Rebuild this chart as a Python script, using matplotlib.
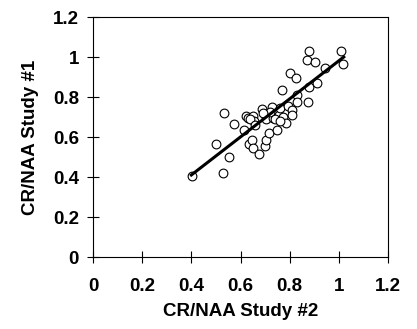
import matplotlib
matplotlib.use("Agg")
import matplotlib.pyplot as plt

plt.rcParams['font.family'] = ['Liberation Sans', 'DejaVu Sans']

study2 = [0.404, 0.527, 0.500, 0.555, 0.532, 0.575, 0.614, 0.622, 0.632, 0.652,
          0.656, 0.633, 0.648, 0.652, 0.675, 0.686, 0.702, 0.700, 0.702, 0.716,
          0.727, 0.731, 0.747, 0.755, 0.761, 0.770, 0.774, 0.785, 0.795, 0.811,
          0.808, 0.801, 0.824, 0.829, 0.831, 0.876, 0.880, 0.910, 0.869, 0.879,
          0.905, 0.945, 1.009, 1.018, 0.720, 0.740, 0.640, 0.690, 0.660, 0.760]
study1 = [0.407, 0.420, 0.565, 0.502, 0.722, 0.665, 0.635, 0.707, 0.697, 0.705,
          0.682, 0.565, 0.585, 0.543, 0.515, 0.738, 0.688, 0.557, 0.585, 0.622,
          0.752, 0.693, 0.635, 0.710, 0.743, 0.835, 0.702, 0.668, 0.755, 0.735,
          0.710, 0.918, 0.893, 0.810, 0.777, 0.777, 0.848, 0.868, 0.985, 1.032,
          0.973, 0.943, 1.030, 0.965, 0.727, 0.690, 0.690, 0.720, 0.660, 0.680]

fit_x = [0.40, 1.02]
fit_y = [0.41, 1.00]

ticks = [0, 0.2, 0.4, 0.6, 0.8, 1.0, 1.2]
tick_labels = ['0', '0.2', '0.4', '0.6', '0.8', '1', '1.2']

fig = plt.figure(figsize=(4.17, 3.29), dpi=100)
ax = fig.add_axes([93/417, 72/329, 295/417, 240/329])

ax.plot(study2, study1, 'o', mfc='white', mec='black', ms=6.3, mew=0.8, zorder=2)
ax.plot(fit_x, fit_y, '-', color='black', lw=2.2, zorder=3)

ax.set_xlim(0, 1.2)
ax.set_ylim(0, 1.2)
ax.set_xticks(ticks)
ax.set_xticklabels(tick_labels)
ax.set_yticks(ticks)
ax.set_yticklabels(tick_labels)
ax.tick_params(direction='inout', length=8, width=0.8, labelsize=13.5)
ax.tick_params(axis='x', pad=11)
ax.tick_params(axis='y', pad=6)
for lab in ax.get_xticklabels() + ax.get_yticklabels():
    lab.set_fontweight('bold')
for s in ax.spines.values():
    s.set_linewidth(0.8)

ax.set_xlabel('CR/NAA Study #2', fontsize=13.5, fontweight='bold', labelpad=6)
ax.set_ylabel('CR/NAA Study #1', fontsize=13.5, fontweight='bold', labelpad=10)

fig.savefig('out.png', dpi=100)
